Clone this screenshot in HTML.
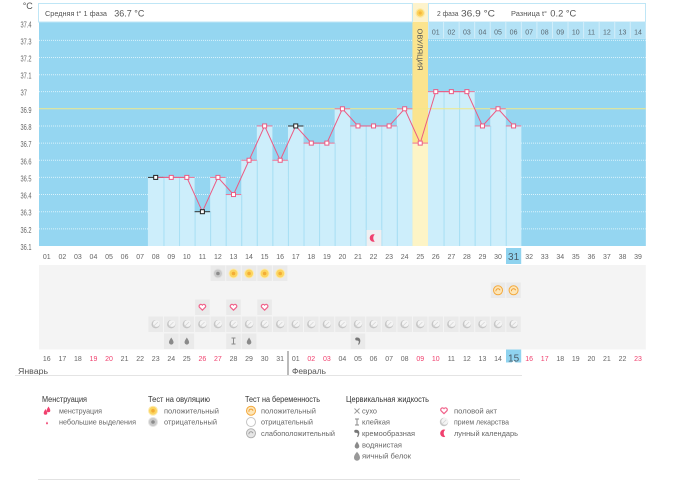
<!DOCTYPE html>
<html><head><meta charset="utf-8">
<style>
html,body{margin:0;padding:0;background:#fff;}
svg{display:block;}
text{font-family:"Liberation Sans","Noto Sans CJK SC",sans-serif;}
</style></head>
<body>
<svg width="677" height="481" viewBox="0 0 677 481" xmlns="http://www.w3.org/2000/svg">
<defs>
  <g id="ovp"><circle r="5" fill="#fdebb3"/><circle r="4" fill="#fcd560"/><circle r="1.8" fill="#f3ad36"/></g>
  <g id="ovn"><circle r="5" fill="#e3e3e3"/><circle r="4" fill="#cacaca"/><circle r="1.8" fill="#8c8c8c"/></g>
  <g id="pgp"><circle r="4.5" fill="#fde6b8" stroke="#f3a83c" stroke-width="1"/><path d="M-2,1 A2,2 0 1 1 2,0" fill="none" stroke="#ef9a2c" stroke-width="1"/></g>
  <g id="pgn"><circle r="4.5" fill="#fff" stroke="#c4c4c4" stroke-width="1"/></g>
  <g id="pgw"><circle r="4.5" fill="#e6e6e6" stroke="#b0b0b0" stroke-width="1"/><path d="M-2,1 A2,2 0 1 1 2,0" fill="none" stroke="#999" stroke-width="1"/></g>
  <path id="heart" d="M0,3 L-3,0 A1.6,1.6 0 0 1 0,-2 A1.6,1.6 0 0 1 3,0 Z" fill="#fff" stroke="#f0628a" stroke-width="1.2" stroke-linejoin="round"/>
  <g id="pill"><circle r="4.2" fill="#c6c6c6"/><circle cx="0.7" cy="-0.7" r="3.4" fill="#f4f4f4"/><line x1="-2.2" y1="2.2" x2="2.2" y2="-2.2" stroke="#d6d6d6" stroke-width="0.8"/></g>
  <path id="drop" d="M0,-3.5 C0.8,-2 2.3,-0.3 2.3,1.3 A2.3,2.3 0 0 1 -2.3,1.3 C-2.3,-0.3 -0.8,-2 0,-3.5 Z" fill="#8a8a8a"/>
  <path id="egg" d="M0,-4.5 C1.2,-3 3,-1 3,1.5 A3,3 0 0 1 -3,1.5 C-3,-1 -1.2,-3 0,-4.5 Z" fill="#999"/>
  <g id="sticky" stroke="#8a8a8a" stroke-width="1"><line x1="-2" y1="-3" x2="2" y2="-3"/><line x1="-2" y1="3" x2="2" y2="3"/><line x1="0" y1="-3" x2="0" y2="3"/></g>
  <path id="cream" d="M-1.5,-3.5 C2.5,-4 3.5,0 1,3.8 L0,3.2 C1.5,1 1,-0.5 -1,-0.5 A1.5,1.5 0 0 1 -1.5,-3.5Z" fill="#777"/>
  <path id="moon" d="M1.2,-3.6 A3.8,3.8 0 1 0 1.2,3.6 A5,5 0 0 1 1.2,-3.6 Z" fill="#f0406e"/>
  <g id="dry" stroke="#999" stroke-width="0.9"><line x1="-2.5" y1="-2.5" x2="2.5" y2="2.5"/><line x1="-2.5" y1="2.5" x2="2.5" y2="-2.5"/></g>
  <path id="pdrop" d="M0,-3 C0.7,-1.8 1.8,-0.3 1.8,1 A1.8,1.8 0 0 1 -1.8,1 C-1.8,-0.3 -0.7,-1.8 0,-3 Z" fill="#f0406e"/>
</defs>

<text x="22.7" y="9" font-size="9" fill="#555">°C</text>

<rect x="39" y="22" width="606.84" height="224" fill="#95d6f1"/>

<g stroke="#d9f2fc" stroke-width="1" stroke-dasharray="1 1">
  <line x1="39" x2="645.8" y1="40.4" y2="40.4"/>
  <line x1="39" x2="645.8" y1="57.5" y2="57.5"/>
  <line x1="39" x2="645.8" y1="74.7" y2="74.7"/>
  <line x1="39" x2="645.8" y1="91.65" y2="91.65"/>
  <line x1="39" x2="645.8" y1="125.95" y2="125.95"/>
  <line x1="39" x2="645.8" y1="143.1" y2="143.1"/>
  <line x1="39" x2="645.8" y1="160.25" y2="160.25"/>
  <line x1="39" x2="645.8" y1="177.4" y2="177.4"/>
  <line x1="39" x2="645.8" y1="194.55" y2="194.55"/>
  <line x1="39" x2="645.8" y1="211.7" y2="211.7"/>
  <line x1="39" x2="645.8" y1="228.85" y2="228.85"/>
</g>

<g fill="#cdeefb">
  <rect x="147.92" y="177.4" width="15.56" height="68.6"/>
  <rect x="163.48" y="177.4" width="15.56" height="68.6"/>
  <rect x="179.04" y="177.4" width="15.56" height="68.6"/>
  <rect x="194.6" y="211.7" width="15.56" height="34.3"/>
  <rect x="210.16" y="177.4" width="15.56" height="68.6"/>
  <rect x="225.72" y="194.55" width="15.56" height="51.45"/>
  <rect x="241.28" y="160.25" width="15.56" height="85.75"/>
  <rect x="256.84" y="125.95" width="15.56" height="120.05"/>
  <rect x="272.4" y="160.25" width="15.56" height="85.75"/>
  <rect x="287.96" y="125.95" width="15.56" height="120.05"/>
  <rect x="303.52" y="143.1" width="15.56" height="102.9"/>
  <rect x="319.08" y="143.1" width="15.56" height="102.9"/>
  <rect x="334.64" y="108.8" width="15.56" height="137.2"/>
  <rect x="350.2" y="125.95" width="15.56" height="120.05"/>
  <rect x="365.76" y="125.95" width="15.56" height="120.05"/>
  <rect x="381.32" y="125.95" width="15.56" height="120.05"/>
  <rect x="396.88" y="108.8" width="15.56" height="137.2"/>
  <rect x="428" y="91.65" width="15.56" height="154.35"/>
  <rect x="443.56" y="91.65" width="15.56" height="154.35"/>
  <rect x="459.12" y="91.65" width="15.56" height="154.35"/>
  <rect x="474.68" y="125.95" width="15.56" height="120.05"/>
  <rect x="490.24" y="108.8" width="15.56" height="137.2"/>
  <rect x="505.8" y="125.95" width="15.56" height="120.05"/>
</g>
<g stroke="#a8dff4" stroke-width="1">
  <line x1="163.98" x2="163.98" y1="177.4" y2="246"/>
  <line x1="179.54" x2="179.54" y1="177.4" y2="246"/>
  <line x1="195.1" x2="195.1" y1="211.7" y2="246"/>
  <line x1="210.66" x2="210.66" y1="211.7" y2="246"/>
  <line x1="226.22" x2="226.22" y1="194.55" y2="246"/>
  <line x1="241.78" x2="241.78" y1="194.55" y2="246"/>
  <line x1="257.34" x2="257.34" y1="160.25" y2="246"/>
  <line x1="272.9" x2="272.9" y1="160.25" y2="246"/>
  <line x1="288.46" x2="288.46" y1="160.25" y2="246"/>
  <line x1="304.02" x2="304.02" y1="143.1" y2="246"/>
  <line x1="319.58" x2="319.58" y1="143.1" y2="246"/>
  <line x1="335.14" x2="335.14" y1="143.1" y2="246"/>
  <line x1="350.7" x2="350.7" y1="125.95" y2="246"/>
  <line x1="366.26" x2="366.26" y1="125.95" y2="246"/>
  <line x1="381.82" x2="381.82" y1="125.95" y2="246"/>
  <line x1="397.38" x2="397.38" y1="125.95" y2="246"/>
  <line x1="444.06" x2="444.06" y1="91.65" y2="246"/>
  <line x1="459.62" x2="459.62" y1="91.65" y2="246"/>
  <line x1="475.18" x2="475.18" y1="125.95" y2="246"/>
  <line x1="490.74" x2="490.74" y1="125.95" y2="246"/>
  <line x1="506.3" x2="506.3" y1="125.95" y2="246"/>
</g>

<rect x="412.44" y="3" width="15.56" height="19" fill="#fdf3cc"/>
<rect x="412.44" y="22" width="15.56" height="121.1" fill="#fbe48e"/>
<rect x="412.44" y="143.1" width="15.56" height="102.9" fill="#fdf4c6"/>
<g transform="translate(420.22,13)"><circle r="4.8" fill="#fde9a6"/><circle r="3.6" fill="#fcd35c"/><circle r="1.6" fill="#f6b63c"/></g>
<text transform="translate(420.22,49.5) rotate(90)" y="2.7" font-size="7.5" fill="#555" text-anchor="middle" textLength="42" lengthAdjust="spacingAndGlyphs">ОВУЛЯЦИЯ</text>

<rect x="38.5" y="3.5" width="373.9" height="18.5" fill="#fff" stroke="#bfe6f6" stroke-width="1"/>
<rect x="428.5" y="3.5" width="217" height="18.5" fill="#fff" stroke="#bfe6f6" stroke-width="1"/>
<text x="45" y="16" font-size="7.5" fill="#555" textLength="62" lengthAdjust="spacingAndGlyphs">Средняя t° 1 фаза</text>
<text x="114.3" y="16.5" font-size="9.5" fill="#555" textLength="30" lengthAdjust="spacingAndGlyphs">36.7 °C</text>
<text x="437" y="16" font-size="7.5" fill="#555" textLength="21.5" lengthAdjust="spacingAndGlyphs">2 фаза</text>
<text x="461" y="16.5" font-size="9.5" fill="#555" textLength="34" lengthAdjust="spacingAndGlyphs">36.9 °C</text>
<text x="511" y="16" font-size="7.5" fill="#555" textLength="36" lengthAdjust="spacingAndGlyphs">Разница t°</text>
<text x="550.3" y="16.5" font-size="9.5" fill="#555" textLength="26" lengthAdjust="spacingAndGlyphs">0.2 °C</text>

<rect x="428" y="22" width="217.84" height="16.7" fill="#d3eefa"/>
<g fill="#b3e2f6">
  <rect x="428.5" y="22" width="14.56" height="16.2"/>
  <rect x="444.06" y="22" width="14.56" height="16.2"/>
  <rect x="459.62" y="22" width="14.56" height="16.2"/>
  <rect x="475.18" y="22" width="14.56" height="16.2"/>
  <rect x="490.74" y="22" width="14.56" height="16.2"/>
  <rect x="506.3" y="22" width="14.56" height="16.2"/>
  <rect x="521.86" y="22" width="14.56" height="16.2"/>
  <rect x="537.42" y="22" width="14.56" height="16.2"/>
  <rect x="552.98" y="22" width="14.56" height="16.2"/>
  <rect x="568.54" y="22" width="14.56" height="16.2"/>
  <rect x="584.1" y="22" width="14.56" height="16.2"/>
  <rect x="599.66" y="22" width="14.56" height="16.2"/>
  <rect x="615.22" y="22" width="14.56" height="16.2"/>
  <rect x="630.78" y="22" width="14.56" height="16.2"/>
</g>
<g font-size="7" fill="#5a6872" text-anchor="middle">
  <text x="435.78" y="34.5">01</text><text x="451.34" y="34.5">02</text><text x="466.9" y="34.5">03</text>
  <text x="482.46" y="34.5">04</text><text x="498.02" y="34.5">05</text><text x="513.58" y="34.5">06</text>
  <text x="529.14" y="34.5">07</text><text x="544.7" y="34.5">08</text><text x="560.26" y="34.5">09</text>
  <text x="575.82" y="34.5">10</text><text x="591.38" y="34.5">11</text><text x="606.94" y="34.5">12</text>
  <text x="622.5" y="34.5">13</text><text x="638.06" y="34.5">14</text>
</g>

<line x1="39" x2="645.84" y1="108.8" y2="108.8" stroke="#f2e88a" stroke-width="1"/>

<rect x="366.5" y="230" width="15" height="16" fill="#f1eff1"/>
<use href="#moon" x="373.54" y="238"/>

<g stroke="#f07395" stroke-width="1">
  <line x1="163.48" x2="179.04" y1="177.4" y2="177.4"/>
  <line x1="179.04" x2="194.6" y1="177.4" y2="177.4"/>
  <line x1="210.16" x2="225.72" y1="177.4" y2="177.4"/>
  <line x1="225.72" x2="241.28" y1="194.55" y2="194.55"/>
  <line x1="241.28" x2="256.84" y1="160.25" y2="160.25"/>
  <line x1="256.84" x2="272.4" y1="125.95" y2="125.95"/>
  <line x1="272.4" x2="287.96" y1="160.25" y2="160.25"/>
  <line x1="303.52" x2="319.08" y1="143.1" y2="143.1"/>
  <line x1="319.08" x2="334.64" y1="143.1" y2="143.1"/>
  <line x1="334.64" x2="350.2" y1="108.8" y2="108.8"/>
  <line x1="350.2" x2="365.76" y1="125.95" y2="125.95"/>
  <line x1="365.76" x2="381.32" y1="125.95" y2="125.95"/>
  <line x1="381.32" x2="396.88" y1="125.95" y2="125.95"/>
  <line x1="396.88" x2="412.44" y1="108.8" y2="108.8"/>
  <line x1="412.44" x2="428" y1="143.1" y2="143.1"/>
  <line x1="428" x2="443.56" y1="91.65" y2="91.65"/>
  <line x1="443.56" x2="459.12" y1="91.65" y2="91.65"/>
  <line x1="459.12" x2="474.68" y1="91.65" y2="91.65"/>
  <line x1="474.68" x2="490.24" y1="125.95" y2="125.95"/>
  <line x1="490.24" x2="505.8" y1="108.8" y2="108.8"/>
  <line x1="505.8" x2="521.36" y1="125.95" y2="125.95"/>
</g>
<g stroke="#333" stroke-width="1">
  <line x1="147.92" x2="163.48" y1="177.4" y2="177.4"/>
  <line x1="194.6" x2="210.16" y1="211.7" y2="211.7"/>
  <line x1="287.96" x2="303.52" y1="125.95" y2="125.95"/>
</g>

<polyline fill="none" stroke="#ec5b84" stroke-width="1" points="155.7,177.4 171.26,177.4 186.82,177.4 202.38,211.7 217.94,177.4 233.5,194.55 249.06,160.25 264.62,125.95 280.18,160.25 295.74,125.95 311.3,143.1 326.86,143.1 342.42,108.8 357.98,125.95 373.54,125.95 389.1,125.95 404.66,108.8 420.22,143.1 435.78,91.65 451.34,91.65 466.9,91.65 482.46,125.95 498.02,108.8 513.58,125.95"/>

<g fill="#fff" stroke="#ec5b84" stroke-width="1">
  <rect x="169.26" y="175.4" width="4" height="4"/>
  <rect x="184.82" y="175.4" width="4" height="4"/>
  <rect x="215.94" y="175.4" width="4" height="4"/>
  <rect x="231.5" y="192.55" width="4" height="4"/>
  <rect x="247.06" y="158.25" width="4" height="4"/>
  <rect x="262.62" y="123.95" width="4" height="4"/>
  <rect x="278.18" y="158.25" width="4" height="4"/>
  <rect x="309.3" y="141.1" width="4" height="4"/>
  <rect x="324.86" y="141.1" width="4" height="4"/>
  <rect x="340.42" y="106.8" width="4" height="4"/>
  <rect x="355.98" y="123.95" width="4" height="4"/>
  <rect x="371.54" y="123.95" width="4" height="4"/>
  <rect x="387.1" y="123.95" width="4" height="4"/>
  <rect x="402.66" y="106.8" width="4" height="4"/>
  <rect x="418.22" y="141.1" width="4" height="4"/>
  <rect x="433.78" y="89.65" width="4" height="4"/>
  <rect x="449.34" y="89.65" width="4" height="4"/>
  <rect x="464.9" y="89.65" width="4" height="4"/>
  <rect x="480.46" y="123.95" width="4" height="4"/>
  <rect x="496.02" y="106.8" width="4" height="4"/>
  <rect x="511.58" y="123.95" width="4" height="4"/>
</g>
<g fill="#fff" stroke="#222" stroke-width="1">
  <rect x="153.7" y="175.4" width="4" height="4"/>
  <rect x="200.38" y="209.7" width="4" height="4"/>
  <rect x="293.74" y="123.95" width="4" height="4"/>
</g>

<g font-size="8.5" fill="#666">
  <text x="20.5" y="27.3" textLength="11" lengthAdjust="spacingAndGlyphs">37.4</text>
  <text x="20.5" y="44.4" textLength="11" lengthAdjust="spacingAndGlyphs">37.3</text>
  <text x="20.5" y="61.5" textLength="11" lengthAdjust="spacingAndGlyphs">37.2</text>
  <text x="20.5" y="78.7" textLength="11" lengthAdjust="spacingAndGlyphs">37.1</text>
  <text x="20.5" y="95.65" textLength="6.5" lengthAdjust="spacingAndGlyphs">37</text>
  <text x="20.5" y="112.8" textLength="11" lengthAdjust="spacingAndGlyphs">36.9</text>
  <text x="20.5" y="129.95" textLength="11" lengthAdjust="spacingAndGlyphs">36.8</text>
  <text x="20.5" y="147.1" textLength="11" lengthAdjust="spacingAndGlyphs">36.7</text>
  <text x="20.5" y="164.25" textLength="11" lengthAdjust="spacingAndGlyphs">36.6</text>
  <text x="20.5" y="181.4" textLength="11" lengthAdjust="spacingAndGlyphs">36.5</text>
  <text x="20.5" y="198.55" textLength="11" lengthAdjust="spacingAndGlyphs">36.4</text>
  <text x="20.5" y="215.7" textLength="11" lengthAdjust="spacingAndGlyphs">36.3</text>
  <text x="20.5" y="232.85" textLength="11" lengthAdjust="spacingAndGlyphs">36.2</text>
  <text x="20.5" y="250" textLength="11" lengthAdjust="spacingAndGlyphs">36.1</text>
</g>

<rect x="506" y="248" width="15.2" height="16" fill="#8fd3ef"/>
<g font-size="7" fill="#666" text-anchor="middle">
  <text x="46.78" y="259.2">01</text><text x="62.34" y="259.2">02</text><text x="77.9" y="259.2">03</text>
  <text x="93.46" y="259.2">04</text><text x="109.02" y="259.2">05</text><text x="124.58" y="259.2">06</text>
  <text x="140.14" y="259.2">07</text><text x="155.7" y="259.2">08</text><text x="171.26" y="259.2">09</text>
  <text x="186.82" y="259.2">10</text><text x="202.38" y="259.2">11</text><text x="217.94" y="259.2">12</text>
  <text x="233.5" y="259.2">13</text><text x="249.06" y="259.2">14</text><text x="264.62" y="259.2">15</text>
  <text x="280.18" y="259.2">16</text><text x="295.74" y="259.2">17</text><text x="311.3" y="259.2">18</text>
  <text x="326.86" y="259.2">19</text><text x="342.42" y="259.2">20</text><text x="357.98" y="259.2">21</text>
  <text x="373.54" y="259.2">22</text><text x="389.1" y="259.2">23</text><text x="404.66" y="259.2">24</text>
  <text x="420.22" y="259.2">25</text><text x="435.78" y="259.2">26</text><text x="451.34" y="259.2">27</text>
  <text x="466.9" y="259.2">28</text><text x="482.46" y="259.2">29</text><text x="498.02" y="259.2">30</text>
  <text x="529.14" y="259.2">32</text><text x="544.7" y="259.2">33</text><text x="560.26" y="259.2">34</text>
  <text x="575.82" y="259.2">35</text><text x="591.38" y="259.2">36</text><text x="606.94" y="259.2">37</text>
  <text x="622.5" y="259.2">38</text><text x="638.06" y="259.2">39</text>
</g>
<text x="513.58" y="260" font-size="10" fill="#4a5a66" text-anchor="middle">31</text>

<rect x="39" y="265" width="606.84" height="84.5" fill="#f4f4f4"/>
<g fill="#eaeaea">
  <rect x="210.66" y="265.5" width="14.56" height="15.5"/>
  <rect x="226.22" y="265.5" width="14.56" height="15.5"/>
  <rect x="241.78" y="265.5" width="14.56" height="15.5"/>
  <rect x="257.34" y="265.5" width="14.56" height="15.5"/>
  <rect x="272.9" y="265.5" width="14.56" height="15.5"/>
  <rect x="490.74" y="282.5" width="14.56" height="15.5"/>
  <rect x="506.3" y="282.5" width="14.56" height="15.5"/>
  <rect x="195.1" y="299.5" width="14.56" height="15.5"/>
  <rect x="226.22" y="299.5" width="14.56" height="15.5"/>
  <rect x="257.34" y="299.5" width="14.56" height="15.5"/>
  <rect x="148.42" y="316.5" width="372.44" height="15.5"/>
  <rect x="163.98" y="333.5" width="14.56" height="15.5"/>
  <rect x="179.54" y="333.5" width="14.56" height="15.5"/>
  <rect x="226.22" y="333.5" width="14.56" height="15.5"/>
  <rect x="241.78" y="333.5" width="14.56" height="15.5"/>
  <rect x="350.7" y="333.5" width="14.56" height="15.5"/>
</g>
<g stroke="#f4f4f4" stroke-width="1">
  <line x1="163.48" x2="163.48" y1="316" y2="333"/><line x1="179.04" x2="179.04" y1="316" y2="333"/>
  <line x1="194.6" x2="194.6" y1="316" y2="333"/><line x1="210.16" x2="210.16" y1="316" y2="333"/>
  <line x1="225.72" x2="225.72" y1="316" y2="333"/><line x1="241.28" x2="241.28" y1="316" y2="333"/>
  <line x1="256.84" x2="256.84" y1="316" y2="333"/><line x1="272.4" x2="272.4" y1="316" y2="333"/>
  <line x1="287.96" x2="287.96" y1="316" y2="333"/><line x1="303.52" x2="303.52" y1="316" y2="333"/>
  <line x1="319.08" x2="319.08" y1="316" y2="333"/><line x1="334.64" x2="334.64" y1="316" y2="333"/>
  <line x1="350.2" x2="350.2" y1="316" y2="333"/><line x1="365.76" x2="365.76" y1="316" y2="333"/>
  <line x1="381.32" x2="381.32" y1="316" y2="333"/><line x1="396.88" x2="396.88" y1="316" y2="333"/>
  <line x1="412.44" x2="412.44" y1="316" y2="333"/><line x1="428" x2="428" y1="316" y2="333"/>
  <line x1="443.56" x2="443.56" y1="316" y2="333"/><line x1="459.12" x2="459.12" y1="316" y2="333"/>
  <line x1="474.68" x2="474.68" y1="316" y2="333"/><line x1="490.24" x2="490.24" y1="316" y2="333"/>
  <line x1="505.8" x2="505.8" y1="316" y2="333"/>
</g>

<use href="#ovn" x="217.94" y="273.5"/>
<use href="#ovp" x="233.5" y="273.5"/>
<use href="#ovp" x="249.06" y="273.5"/>
<use href="#ovp" x="264.62" y="273.5"/>
<use href="#ovp" x="280.18" y="273.5"/>

<use href="#pgp" x="498.02" y="290.3"/>
<use href="#pgp" x="513.58" y="290.3"/>

<use href="#heart" x="202.38" y="307.2"/>
<use href="#heart" x="233.5" y="307.2"/>
<use href="#heart" x="264.62" y="307.2"/>

<use href="#pill" x="155.7" y="324.2"/><use href="#pill" x="171.26" y="324.2"/><use href="#pill" x="186.82" y="324.2"/>
<use href="#pill" x="202.38" y="324.2"/><use href="#pill" x="217.94" y="324.2"/><use href="#pill" x="233.5" y="324.2"/>
<use href="#pill" x="249.06" y="324.2"/><use href="#pill" x="264.62" y="324.2"/><use href="#pill" x="280.18" y="324.2"/>
<use href="#pill" x="295.74" y="324.2"/><use href="#pill" x="311.3" y="324.2"/><use href="#pill" x="326.86" y="324.2"/>
<use href="#pill" x="342.42" y="324.2"/><use href="#pill" x="357.98" y="324.2"/><use href="#pill" x="373.54" y="324.2"/>
<use href="#pill" x="389.1" y="324.2"/><use href="#pill" x="404.66" y="324.2"/><use href="#pill" x="420.22" y="324.2"/>
<use href="#pill" x="435.78" y="324.2"/><use href="#pill" x="451.34" y="324.2"/><use href="#pill" x="466.9" y="324.2"/>
<use href="#pill" x="482.46" y="324.2"/><use href="#pill" x="498.02" y="324.2"/><use href="#pill" x="513.58" y="324.2"/>

<use href="#drop" x="171.26" y="341"/>
<use href="#drop" x="186.82" y="341"/>
<use href="#sticky" x="233.5" y="341"/>
<use href="#drop" x="249.06" y="341"/>
<use href="#cream" x="357.98" y="341"/>

<rect x="506" y="349.5" width="15.2" height="13" fill="#8fd3ef"/>
<polygon points="511.6,362.6 515.6,362.6 513.6,360.4" fill="#fff"/>
<g font-size="7" fill="#666" text-anchor="middle">
  <text x="46.78" y="361">16</text><text x="62.34" y="361">17</text><text x="77.9" y="361">18</text>
  <text x="93.46" y="361" fill="#f0406e">19</text><text x="109.02" y="361" fill="#f0406e">20</text>
  <text x="124.58" y="361">21</text><text x="140.14" y="361">22</text><text x="155.7" y="361">23</text>
  <text x="171.26" y="361">24</text><text x="186.82" y="361">25</text>
  <text x="202.38" y="361" fill="#f0406e">26</text><text x="217.94" y="361" fill="#f0406e">27</text>
  <text x="233.5" y="361">28</text><text x="249.06" y="361">29</text><text x="264.62" y="361">30</text>
  <text x="280.18" y="361">31</text><text x="295.74" y="361">01</text>
  <text x="311.3" y="361" fill="#f0406e">02</text><text x="326.86" y="361" fill="#f0406e">03</text>
  <text x="342.42" y="361">04</text><text x="357.98" y="361">05</text><text x="373.54" y="361">06</text>
  <text x="389.1" y="361">07</text><text x="404.66" y="361">08</text>
  <text x="420.22" y="361" fill="#f0406e">09</text><text x="435.78" y="361" fill="#f0406e">10</text>
  <text x="451.34" y="361">11</text><text x="466.9" y="361">12</text><text x="482.46" y="361">13</text>
  <text x="498.02" y="361">14</text>
  <text x="529.14" y="361" fill="#f0406e">16</text><text x="544.7" y="361" fill="#f0406e">17</text>
  <text x="560.26" y="361">18</text><text x="575.82" y="361">19</text><text x="591.38" y="361">20</text>
  <text x="606.94" y="361">21</text><text x="622.5" y="361">22</text>
  <text x="638.06" y="361" fill="#f0406e">23</text>
</g>
<text x="513.58" y="361.5" font-size="10" fill="#4a5a66" text-anchor="middle">15</text>

<line x1="288" x2="288" y1="351" y2="375" stroke="#777" stroke-width="1"/>
<text x="18" y="374" font-size="8" fill="#555" textLength="30" lengthAdjust="spacingAndGlyphs">Январь</text>
<text x="292" y="374" font-size="8" fill="#555" textLength="34" lengthAdjust="spacingAndGlyphs">Февраль</text>
<line x1="15" x2="522" y1="375.5" y2="375.5" stroke="#e4e4e4" stroke-width="1"/>

<g font-size="8" fill="#333">
  <text x="42" y="401.8" textLength="45" lengthAdjust="spacingAndGlyphs">Менструация</text>
  <text x="148" y="401.8" textLength="62" lengthAdjust="spacingAndGlyphs">Тест на овуляцию</text>
  <text x="245" y="401.8" textLength="75" lengthAdjust="spacingAndGlyphs">Тест на беременность</text>
  <text x="346" y="401.8" textLength="83" lengthAdjust="spacingAndGlyphs">Цервикальная жидкость</text>
</g>
<g font-size="7.5" fill="#666">
  <text x="59" y="413.3" textLength="43" lengthAdjust="spacingAndGlyphs">менструация</text>
  <text x="59" y="424.5" textLength="77" lengthAdjust="spacingAndGlyphs">небольшие выделения</text>
  <text x="164" y="413.3" textLength="55" lengthAdjust="spacingAndGlyphs">положительный</text>
  <text x="164" y="424.5" textLength="53" lengthAdjust="spacingAndGlyphs">отрицательный</text>
  <text x="261" y="413.3" textLength="55" lengthAdjust="spacingAndGlyphs">положительный</text>
  <text x="261" y="424.5" textLength="52" lengthAdjust="spacingAndGlyphs">отрицательный</text>
  <text x="261" y="435.8" textLength="74" lengthAdjust="spacingAndGlyphs">слабоположительный</text>
  <text x="362" y="413.3" textLength="15" lengthAdjust="spacingAndGlyphs">сухо</text>
  <text x="362" y="424.5" textLength="28" lengthAdjust="spacingAndGlyphs">клейкая</text>
  <text x="362" y="435.8" textLength="53" lengthAdjust="spacingAndGlyphs">кремообразная</text>
  <text x="362" y="447.3" textLength="40" lengthAdjust="spacingAndGlyphs">водянистая</text>
  <text x="362" y="458.6" textLength="49" lengthAdjust="spacingAndGlyphs">яичный белок</text>
  <text x="454" y="413.3" textLength="43" lengthAdjust="spacingAndGlyphs">половой акт</text>
  <text x="454" y="424.5" textLength="55" lengthAdjust="spacingAndGlyphs">прием лекарства</text>
  <text x="454" y="435.8" textLength="64" lengthAdjust="spacingAndGlyphs">лунный календарь</text>
</g>
<use href="#pdrop" x="45.5" y="412"/>
<use href="#pdrop" x="48.5" y="409.5"/>
<use href="#pdrop" x="47" y="423" transform="translate(23.5,211.5) scale(0.5)"/>
<use href="#ovp" x="153" y="410.7"/>
<use href="#ovn" x="153" y="422"/>
<use href="#pgp" x="251" y="410.7"/>
<use href="#pgn" x="251" y="422"/>
<use href="#pgw" x="251" y="433.3"/>
<use href="#dry" x="357" y="411"/>
<use href="#sticky" x="357" y="422"/>
<use href="#cream" x="357" y="433.3"/>
<use href="#drop" x="357" y="445"/>
<use href="#egg" x="357" y="456.3"/>
<use href="#heart" x="444" y="410.7"/>
<use href="#pill" x="444" y="422"/>
<use href="#moon" x="444" y="433.3"/>

<line x1="38" x2="520" y1="479.5" y2="479.5" stroke="#e2e2e2" stroke-width="1"/>
</svg>
</body></html>
